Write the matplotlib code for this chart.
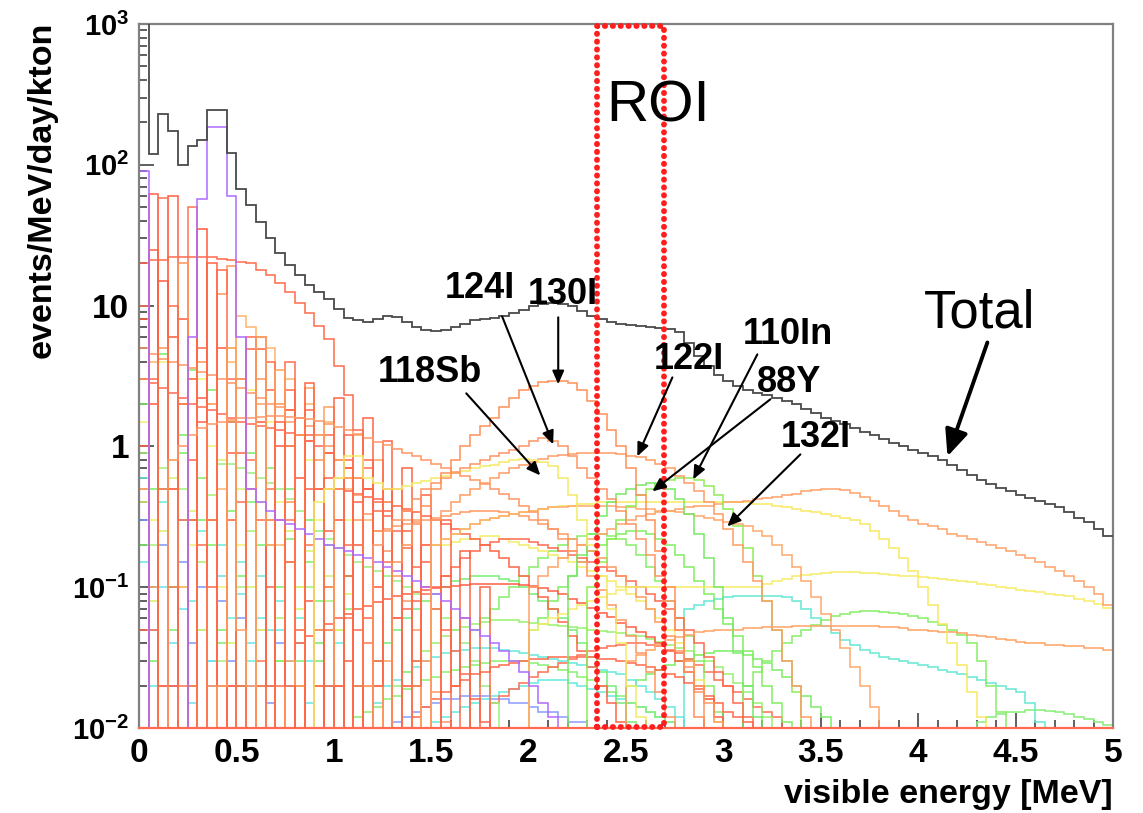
import numpy as np
import matplotlib.pyplot as plt
from matplotlib.patches import Rectangle
from matplotlib.ticker import FixedLocator, FixedFormatter, MultipleLocator, LogLocator, NullFormatter

plt.rcParams['font.family'] = ['Liberation Sans', 'DejaVu Sans']
plt.rcParams['mathtext.fontset'] = 'custom'
plt.rcParams['mathtext.rm'] = 'Liberation Sans:bold'
plt.rcParams['mathtext.it'] = 'Liberation Sans:bold'
plt.rcParams['mathtext.bf'] = 'Liberation Sans:bold'

# histogram binning: 100 bins of 0.05 MeV
edges = np.linspace(0, 5, 101)

# total spectrum, events/MeV/day/kton per bin
total = [1500, 119, 228, 175, 100, 135, 150, 243, 243, 122,
         67, 52, 39, 30, 23.5, 19.5, 16.6, 14.1, 12.4, 11.1,
         9.4, 8.2, 7.9, 7.7, 8.0, 8.4, 8.3, 7.6, 7.0, 6.7,
         6.6, 6.7, 7.0, 7.4, 7.9, 8.0, 8.2, 8.4, 8.8, 9.3,
         9.9, 10.3, 10.4, 10.2, 10.0, 9.2, 8.4, 8.0, 7.7, 7.4,
         7.3, 7.2, 7.0, 6.9, 6.8, 6.5, 5.4, 4.4, 3.7, 3.2,
         2.9, 2.7, 2.5, 2.4, 2.3, 2.2, 2.1, 2.0, 1.85, 1.72,
         1.6, 1.52, 1.43, 1.35, 1.27, 1.2, 1.12, 1.05, 1.0, 0.95,
         0.9, 0.85, 0.8, 0.74, 0.68, 0.63, 0.58, 0.54, 0.51, 0.48,
         0.45, 0.43, 0.41, 0.39, 0.37, 0.34, 0.31, 0.29, 0.26, 0.23]

# individual isotopes: (first bin index, values per bin)
i130 = (26, [0.15, 0.2, 0.28, 0.38, 0.5, 0.65, 0.8, 1.0, 1.2, 1.4, 1.6, 1.9, 2.2, 2.5, 2.7,
             2.85, 2.9, 2.9, 2.8, 2.5, 2.1, 1.7, 1.3, 1.0, 0.7, 0.45, 0.3, 0.18, 0.1, 0.05,
             0.025, 0.012])
i124 = (24, [0.2, 0.25, 0.3, 0.35, 0.42, 0.5, 0.55, 0.6, 0.65, 0.7, 0.75, 0.8, 0.85, 0.9, 0.95,
             1.0, 1.1, 1.15, 1.1, 1.0, 0.85, 0.7, 0.6, 0.5, 0.42, 0.35, 0.28, 0.22, 0.17, 0.12,
             0.08, 0.05, 0.03, 0.018, 0.01])
sb118 = (18, [0.4, 0.5, 0.6, 0.85, 0.85, 0.6, 0.55, 0.5, 0.5, 0.52, 0.55, 0.57, 0.6, 0.62, 0.65,
              0.67, 0.7, 0.72, 0.74, 0.77, 0.8, 0.82, 0.8, 0.78, 0.72, 0.6, 0.45, 0.3, 0.2, 0.12,
              0.07, 0.04, 0.02, 0.012])
i122 = (30, [0.3, 0.35, 0.4, 0.45, 0.5, 0.55, 0.6, 0.65, 0.7, 0.74, 0.78, 0.82, 0.85, 0.87, 0.88,
             0.89, 0.9, 0.9, 0.9, 0.88, 0.86, 0.84, 0.8, 0.75, 0.7, 0.62, 0.55, 0.48, 0.4, 0.33,
             0.26, 0.2, 0.15, 0.11, 0.08, 0.05, 0.03, 0.02, 0.012])
y88 = (44, [0.12, 0.17, 0.24, 0.32, 0.4, 0.46, 0.5, 0.53, 0.55, 0.54, 0.5, 0.42, 0.33, 0.24, 0.16,
            0.1, 0.06, 0.035, 0.02, 0.012])
in110 = (46, [0.1, 0.15, 0.22, 0.3, 0.38, 0.45, 0.5, 0.55, 0.58, 0.6, 0.6, 0.58, 0.52, 0.45, 0.36,
              0.27, 0.19, 0.12, 0.08, 0.05, 0.03, 0.018, 0.01])
i132 = (30, [0.2, 0.22, 0.24, 0.26, 0.28, 0.3, 0.31, 0.32, 0.33, 0.34, 0.35, 0.36, 0.37, 0.37, 0.38,
             0.38, 0.38, 0.38, 0.38, 0.37, 0.37, 0.36, 0.36, 0.35, 0.35, 0.34, 0.33, 0.32, 0.31, 0.3,
             0.29, 0.28, 0.27, 0.25, 0.23, 0.2, 0.17, 0.14, 0.11, 0.085, 0.065, 0.05, 0.037, 0.027,
             0.02, 0.014, 0.01])
peak_lowE = (0, [90, 0, 0, 0, 0, 6, 57, 184, 184, 60, 6, 0.5, 0.4, 0.35, 0.3, 0.28, 0.26, 0.24,
                 0.22, 0.2, 0.19, 0.18, 0.17, 0.16, 0.15, 0.14, 0.13, 0.12, 0.11, 0.1, 0.09, 0.08,
                 0.07, 0.06, 0.05, 0.045, 0.04, 0.035, 0.03, 0.025, 0.02, 0.015, 0.012])
broad_red = (0, [20, 21, 21, 22, 22, 22, 22, 22, 21.5, 21, 20.5, 20, 18, 16.5, 14.5, 12.5, 10.5,
                 8.8, 7.2, 5.8, 3.7, 2.3, 1.3, 0.7, 0.35, 0.15, 0.06, 0.02])
broad_orange = (3, [0.8, 1.0, 1.2, 1.35, 1.45, 1.5, 1.55, 1.58, 1.6, 1.62, 1.63, 1.63, 1.62, 1.6,
                    1.57, 1.52, 1.45, 1.38, 1.3, 1.22, 1.15, 1.08, 1.02, 0.96, 0.9, 0.85, 0.8,
                    0.75, 0.7, 0.66, 0.62, 0.58, 0.54, 0.5, 0.46, 0.42, 0.38, 0.34, 0.3, 0.26,
                    0.22, 0.18, 0.15, 0.12, 0.095, 0.075, 0.058, 0.045, 0.034, 0.025, 0.018, 0.012])
hiE_orange = (40, [0.1, 0.12, 0.14, 0.16, 0.18, 0.2, 0.22, 0.24, 0.26, 0.28, 0.3, 0.32, 0.33, 0.34,
                   0.35, 0.36, 0.37, 0.38, 0.38, 0.39, 0.4, 0.4, 0.41, 0.42, 0.43, 0.44, 0.45,
                   0.46, 0.48, 0.49, 0.5, 0.5, 0.49, 0.47, 0.44, 0.41, 0.38, 0.35, 0.32, 0.3,
                   0.28, 0.27, 0.26, 0.24, 0.23, 0.22, 0.21, 0.2, 0.19, 0.18, 0.17, 0.16, 0.15,
                   0.14, 0.13, 0.12, 0.11, 0.1, 0.09, 0.075])
hiE_yellow = (30, [0.2, 0.22, 0.24, 0.26, 0.28, 0.3, 0.31, 0.32, 0.33, 0.34, 0.35, 0.36, 0.37,
                   0.38, 0.38, 0.39, 0.39, 0.4, 0.4, 0.4, 0.4, 0.4, 0.4, 0.4, 0.4, 0.4, 0.4, 0.4,
                   0.4, 0.4, 0.4, 0.4, 0.4, 0.39, 0.39, 0.38, 0.37, 0.36, 0.35, 0.34, 0.33, 0.32,
                   0.31, 0.3, 0.28, 0.25, 0.22, 0.19, 0.16, 0.13, 0.1, 0.075, 0.055, 0.04, 0.028,
                   0.018, 0.012])
flat_yellow = (40, [0.05, 0.055, 0.06, 0.065, 0.07, 0.075, 0.08, 0.085, 0.09, 0.095, 0.1, 0.1, 0.1,
                    0.1, 0.1, 0.1, 0.1, 0.1, 0.1, 0.1, 0.1, 0.1, 0.1, 0.1, 0.105, 0.11, 0.115,
                    0.12, 0.122, 0.125, 0.127, 0.128, 0.128, 0.128, 0.127, 0.126, 0.125, 0.123,
                    0.121, 0.12, 0.118, 0.116, 0.114, 0.112, 0.11, 0.108, 0.105, 0.103, 0.1,
                    0.098, 0.096, 0.094, 0.092, 0.09, 0.088, 0.086, 0.083, 0.08, 0.076, 0.071])
flat_orange = (50, [0.03, 0.033, 0.036, 0.039, 0.042, 0.044, 0.046, 0.048, 0.049, 0.05, 0.05, 0.05,
                    0.051, 0.051, 0.052, 0.052, 0.052, 0.053, 0.053, 0.053, 0.053, 0.053, 0.053,
                    0.053, 0.053, 0.053, 0.052, 0.052, 0.051, 0.05, 0.05, 0.049, 0.048, 0.048,
                    0.047, 0.046, 0.045, 0.044, 0.043, 0.042, 0.041, 0.04, 0.04, 0.039, 0.039,
                    0.038, 0.038, 0.037, 0.037, 0.036])
hiE_green = (62, [0.02, 0.025, 0.03, 0.035, 0.04, 0.045, 0.05, 0.054, 0.058, 0.062, 0.065, 0.067,
                  0.068, 0.068, 0.067, 0.066, 0.064, 0.062, 0.06, 0.057, 0.054, 0.05, 0.046, 0.04,
                  0.03, 0.02, 0.013, 0.01])
hiE_cyan = (56, [0.07, 0.075, 0.08, 0.083, 0.085, 0.086, 0.087, 0.087, 0.087, 0.086, 0.085, 0.08,
                 0.07, 0.06, 0.053, 0.047, 0.042, 0.039, 0.036, 0.034, 0.032, 0.031, 0.03, 0.029,
                 0.028, 0.027, 0.026, 0.025, 0.024, 0.023, 0.022, 0.021, 0.02, 0.019, 0.018,
                 0.015, 0.011])
tail_green = (86, [0.011, 0.012, 0.0125, 0.013, 0.013, 0.0135, 0.0135, 0.0133, 0.013, 0.0125,
                   0.012, 0.0115, 0.011, 0.0105])
red_hump = (16, [0.04, 0.045, 0.05, 0.055, 0.06, 0.065, 0.07, 0.074, 0.078, 0.082, 0.086, 0.089,
                 0.092, 0.095, 0.098, 0.1, 0.102, 0.104, 0.105, 0.106, 0.106, 0.106, 0.105, 0.104,
                 0.102, 0.098, 0.094, 0.089, 0.083, 0.077, 0.071, 0.066, 0.061, 0.056, 0.052,
                 0.048, 0.044, 0.04, 0.035, 0.03, 0.025, 0.02, 0.016, 0.012])
red_low_hump = (28, [0.012, 0.014, 0.016, 0.018, 0.02, 0.022, 0.024, 0.025, 0.027, 0.028, 0.029,
                     0.03, 0.031, 0.031, 0.032, 0.032, 0.032, 0.032, 0.032, 0.031, 0.031, 0.03,
                     0.029, 0.028, 0.027, 0.026, 0.024, 0.023, 0.021, 0.019, 0.017, 0.015, 0.013,
                     0.012, 0.011])
green_mid = (34, [0.05, 0.06, 0.07, 0.085, 0.1, 0.12, 0.14, 0.16, 0.18, 0.2, 0.22, 0.23, 0.24, 0.24,
                  0.23, 0.22, 0.2, 0.17, 0.14, 0.11, 0.08, 0.06, 0.045, 0.03, 0.02, 0.013])
green_wide = (24, [0.03, 0.04, 0.05, 0.06, 0.07, 0.08, 0.09, 0.1, 0.11, 0.115, 0.12, 0.12, 0.12,
                   0.115, 0.11, 0.1, 0.09, 0.08, 0.07, 0.06, 0.05, 0.04, 0.032, 0.025, 0.02, 0.015,
                   0.011])
green_flat = (26, [0.02, 0.025, 0.03, 0.035, 0.04, 0.045, 0.05, 0.052, 0.055, 0.057, 0.058, 0.058,
                   0.058, 0.057, 0.056, 0.055, 0.054, 0.053, 0.052, 0.051, 0.05, 0.049, 0.048,
                   0.047, 0.046, 0.045, 0.043, 0.041, 0.039, 0.037, 0.035, 0.033, 0.03, 0.027,
                   0.024, 0.021, 0.018, 0.015, 0.012, 0.01])
green_low = (8, [0.75, 0.75, 0.7, 0.65, 0.6, 0.55, 0.5, 0.42, 0.35, 0.3, 0.25, 0.22, 0.19, 0.17,
                 0.15, 0.14, 0.13, 0.12, 0.11, 0.1, 0.09, 0.08, 0.07, 0.06, 0.05, 0.04, 0.03, 0.02,
                 0.015, 0.01])
desc_orange = (0, [5, 4.5, 4.2, 4, 3.8, 3.6, 3.4, 3.2, 3, 2.8, 2.6, 2.4, 2.2, 2.0, 1.9, 1.8, 1.6,
                   1.4, 1.2, 1.0, 0.8, 0.6, 0.45, 0.33, 0.25, 0.18, 0.12, 0.08, 0.05, 0.03, 0.018,
                   0.011])
desc_red = (0, [3, 2.8, 2.6, 2.4, 2.2, 2.0, 1.9, 1.8, 1.7, 1.6, 1.5, 1.45, 1.4, 1.35, 1.3, 1.25,
                1.2, 1.1, 1.0, 0.9, 0.8, 0.7, 0.6, 0.5, 0.4, 0.32, 0.25, 0.19, 0.14, 0.1, 0.07,
                0.05, 0.035, 0.024, 0.016, 0.011])
mid_red1 = (20, [0.5, 0.48, 0.46, 0.44, 0.42, 0.4, 0.38, 0.36, 0.34, 0.32, 0.3, 0.28, 0.26, 0.24,
                 0.22, 0.2, 0.18, 0.16, 0.14, 0.12, 0.1, 0.085, 0.07, 0.057, 0.045, 0.035, 0.027,
                 0.02, 0.015, 0.011])
mid_orange2 = (24, [0.25, 0.26, 0.27, 0.28, 0.29, 0.3, 0.31, 0.32, 0.33, 0.34, 0.35, 0.35, 0.35,
                    0.34, 0.33, 0.32, 0.3, 0.28, 0.26, 0.24, 0.22, 0.2, 0.18, 0.16, 0.14, 0.12,
                    0.1, 0.085, 0.07, 0.057, 0.045, 0.035, 0.027, 0.02, 0.015, 0.011])
mid_red3 = (26, [0.06, 0.07, 0.08, 0.09, 0.1, 0.12, 0.14, 0.16, 0.18, 0.2, 0.21, 0.22, 0.22, 0.22,
                 0.21, 0.2, 0.19, 0.18, 0.17, 0.16, 0.15, 0.14, 0.13, 0.12, 0.11, 0.1, 0.09, 0.08,
                 0.07, 0.06, 0.05, 0.04, 0.032, 0.025, 0.02, 0.015, 0.012])
mid_green4 = (40, [0.05, 0.06, 0.08, 0.1, 0.12, 0.15, 0.18, 0.2, 0.22, 0.24, 0.25, 0.25, 0.24, 0.22,
                   0.2, 0.17, 0.14, 0.11, 0.09, 0.07, 0.055, 0.045, 0.035, 0.027, 0.02, 0.015,
                   0.011])
mid_cyan = (24, [0.015, 0.02, 0.022, 0.025, 0.027, 0.03, 0.032, 0.034, 0.035, 0.036, 0.037, 0.037,
                 0.037, 0.036, 0.035, 0.034, 0.033, 0.032, 0.031, 0.03, 0.029, 0.028, 0.027,
                 0.026, 0.025, 0.024, 0.022, 0.02, 0.018, 0.016, 0.014, 0.012, 0.01])
mid_yellow = (30, [0.2, 0.2, 0.21, 0.22, 0.22, 0.23, 0.23, 0.22, 0.21, 0.2, 0.19, 0.18, 0.17, 0.16,
                   0.15, 0.14, 0.13, 0.12, 0.11, 0.1, 0.09, 0.08, 0.07, 0.06, 0.05, 0.04, 0.03,
                   0.022, 0.016, 0.011])
low_green_a = (22, [0.012, 0.013, 0.014, 0.016, 0.017, 0.019, 0.02, 0.022, 0.023, 0.025, 0.026,
                    0.027, 0.028, 0.029, 0.03, 0.03, 0.03, 0.03, 0.029, 0.028, 0.027, 0.026,
                    0.025, 0.023, 0.022, 0.02, 0.018, 0.017, 0.015, 0.014, 0.013, 0.012, 0.011,
                    0.01])
low_cyan_b = (30, [0.011, 0.012, 0.013, 0.014, 0.015, 0.016, 0.017, 0.018, 0.019, 0.02, 0.021,
                   0.022, 0.022, 0.022, 0.021, 0.02, 0.019, 0.018, 0.017, 0.016, 0.015, 0.014,
                   0.013, 0.012, 0.011, 0.01])
low_blue_c = (26, [0.011, 0.012, 0.013, 0.014, 0.015, 0.016, 0.016, 0.017, 0.017, 0.017, 0.016,
                   0.016, 0.015, 0.015, 0.014, 0.013, 0.013, 0.012, 0.011, 0.011, 0.01])
low_red_d = (36, [0.015, 0.017, 0.019, 0.021, 0.023, 0.025, 0.027, 0.029, 0.031, 0.033, 0.035,
                  0.037, 0.038, 0.039, 0.04, 0.04, 0.039, 0.038, 0.036, 0.034, 0.031, 0.028,
                  0.025, 0.022, 0.02, 0.018, 0.016, 0.014, 0.013, 0.012])
low_green_e = (50, [0.02, 0.022, 0.024, 0.026, 0.028, 0.03, 0.031, 0.033, 0.034, 0.035, 0.035,
                    0.034, 0.033, 0.031, 0.029, 0.026, 0.023, 0.02, 0.017, 0.014, 0.012, 0.01])

# low-energy spikes (the dense "forest" below 1.3 MeV)
spike_1 = (0, [0, 62, 0.02, 60, 0.01, 0.8, 2.2, 0.3, 0.01, 0.9, 0.02, 0.5, 0.01, 0.3, 0.01, 0.15,
               0.01, 0.08, 0.01, 0.05, 0.01, 0.03])
spike_2 = (0, [0.5, 0.05, 58, 0.1, 0.02, 50, 0.01, 2, 0.02, 1.5, 0.01, 0.8, 0.03, 0.5, 0.01, 0.3,
               0.02, 0.2, 0.01, 0.1, 0.01, 0.06, 0.01, 0.04])
spike_3 = (0, [8, 2, 15, 0.02, 8, 0.3, 35, 0.01, 5, 0.02, 3, 0.01, 1.5, 0.02, 1.0, 0.01, 0.6, 0.01,
               0.5, 0.02, 0.3, 0.01, 0.2, 0.01, 0.1])
spike_4 = (0, [3, 0.1, 5, 0.5, 20, 0.01, 4, 0.02, 12, 19, 0.01, 0.5, 3, 0.01, 2, 0.4, 1.2, 0.01,
               0.8, 0.1, 0.5, 0.01, 0.3])
spike_5 = (0, [0.5, 4, 0.01, 6, 0.1, 3, 0.01, 2, 0.5, 4, 8.4, 7, 0.01, 5, 0.2, 3, 0.01, 2, 0.02,
               1.5, 0.6, 0.5, 0.01, 0.3])
spike_6 = (0, [2, 0.5, 4.5, 0.1, 1.2, 3.5, 0.3, 2.5, 0.05, 1.5, 0.02, 0.9, 0.2, 0.7, 0.03, 0.5, 0.1,
               0.3, 0.04, 0.2, 0.05, 0.12, 0.02])
spike_7 = (0, [1.5, 0.3, 4, 0.8, 2, 0.2, 3, 1, 0.1, 5, 0.2, 2.5, 0.05, 1.5, 0.4, 1, 0.1, 0.8, 0.3,
               0.5, 0.05, 0.3])
spike_8 = (0, [0.6, 0.1, 0.4, 0.05, 0.3, 0.08, 0.25, 0.03, 0.2, 0.06, 0.15, 0.03, 0.12, 0.05, 0.08,
               0.02, 0.06, 0.03, 0.05, 0.02, 0.04])
spike_9 = (0, [0.3, 0.05, 0.2, 0.02, 0.15, 0.04, 0.1, 0.02, 0.08, 0.03, 0.06, 0.02, 0.05, 0.015,
               0.04])
spike_10 = (0, [0.9, 0.2, 0.7, 0.05, 0.5, 0.3, 0.15, 0.45, 0.03, 0.3, 0.1, 0.25, 0.02, 0.2, 0.06,
                0.15, 0.02, 0.1, 0.03, 0.08])
spike_11 = (0, [1, 25, 0.01, 0.5, 2, 0.01, 1.5, 20, 0.01, 0.3, 0.9, 4.9, 4.9, 0.1, 0.01, 1, 0.02,
                0.5, 0.01, 0.25, 0.02, 0.12, 0.01, 0.06])
spike_12 = (0, [10, 0.01, 0.5, 6, 0.01, 3, 0.2, 0.01, 18, 0.02, 0.4, 0.01, 6, 0.01, 0.3, 4, 0.01,
                1.1, 0.01, 0.5, 0.01, 0.2, 0.02])
spike_13 = (12, [0.02, 2.5, 0.01, 1.8, 0.05, 1.2, 0.01, 0.9, 0.02, 0.7, 0.01, 0.5, 0.03, 0.35, 0.01,
                 0.25, 0.01, 0.15])
spike_14 = (10, [3, 0.01, 2, 0.3, 0.01, 1.5, 0.02, 0.01, 1.2, 0.05, 0.8, 0.01, 0.6, 0.02, 0.01, 0.4,
                 0.01, 0.3, 0.01, 0.2])
spike_15 = (0, [0.05, 3, 0.02, 10, 0.3, 0.02, 5, 0.1, 0.02, 3, 0.01, 6, 0.3, 4, 0.02, 2.5, 0.01, 1.8,
                0.5, 1.2, 0.01, 0.8, 0.05, 0.5, 0.01])
spike_16 = (0, [0.2, 0.03, 0.5, 0.1, 0.9, 0.02, 0.6, 0.2, 0.04, 0.35, 0.12, 0.4, 0.05, 0.3, 0.1, 0.22,
                0.03, 0.15, 0.08, 0.1, 0.02, 0.07])
spike_17 = (0, [0.15, 0.02, 0.1, 0.04, 0.07, 0.015, 0.05, 0.03, 0.12, 0.02, 0.09, 0.04, 0.06, 0.02,
                0.05, 0.03, 0.04, 0.015, 0.03])
spike_18 = (8, [0.02, 5, 0.05, 0.02, 6, 0.2, 3.5, 0.03, 0.02, 2.6, 0.05, 1.9, 0.02, 0.6, 1.2, 0.02,
                0.8, 0.03, 0.5, 0.02, 0.3])
spike_19 = (14, [1.5, 0.02, 0.01, 2.8, 0.02, 0.6, 2.2, 0.01, 0.4, 1.6, 0.02, 1.1, 0.01, 0.7, 0.03,
                 0.45, 0.01, 0.3, 0.02, 0.18, 0.01, 0.1])
spike_20 = (0, [0.4, 0.08, 0.25, 0.6, 0.1, 0.35, 0.05, 0.3, 0.8, 0.04, 0.5, 0.1, 0.4, 0.2, 0.03,
                0.25, 0.07, 0.18, 0.02, 0.12, 0.05, 0.09, 0.02])
spike_21 = (20, [0.02, 1.2, 0.01, 0.8, 0.02, 0.5, 0.01, 0.35, 0.02, 0.2, 0.01, 0.12, 0.01, 0.06])

series = [
    (spike_8, '#66ecdc'), (spike_9, '#7a98ff'), (spike_17, '#66e4ee'), (spike_10, '#a4f276'),
    (spike_16, '#7cf066'), (spike_20, '#d4f466'), (spike_6, '#77ee66'), (spike_7, '#f4ee70'),
    (low_blue_c, '#8a9cff'), (low_cyan_b, '#66e8e0'), (low_green_a, '#88f070'),
    (low_green_e, '#7cee66'), (low_red_d, '#ff7054'),
    (tail_green, '#88ee77'), (hiE_cyan, '#66e8d4'), (hiE_green, '#88ee66'), (mid_cyan, '#66e8dc'),
    (green_flat, '#99f070'), (green_wide, '#77ee77'), (green_mid, '#88ee66'), (green_low, '#99f080'),
    (mid_green4, '#80ee60'), (mid_yellow, '#f4ec68'),
    (red_low_hump, '#ff6a4c'), (red_hump, '#ff5e44'), (mid_red3, '#ff6a50'), (mid_red1, '#ff6448'),
    (mid_orange2, '#ff9a60'),
    (flat_orange, '#ffa466'), (flat_yellow, '#f6ec68'), (hiE_yellow, '#f6ea60'),
    (hiE_orange, '#ffa268'), (desc_red, '#ff6a50'), (desc_orange, '#ff9660'),
    (spike_1, '#ff5e42'), (spike_2, '#ff7454'), (spike_3, '#ff5a3c'), (spike_4, '#ff9458'),
    (spike_5, '#ffb46a'), (spike_11, '#ff6244'), (spike_12, '#ff6c50'),
    (spike_13, '#ff6446'), (spike_14, '#ff9e60'), (spike_15, '#ff6a4a'), (spike_18, '#ffa060'),
    (spike_19, '#ff6446'), (spike_21, '#ff6a4c'),
    (broad_orange, '#ff9664'), (broad_red, '#ff6a4c'), (peak_lowE, '#ad6aff'),
    (i132, '#ffa86c'), (in110, '#90ee55'), (y88, '#77e866'), (i122, '#ff9c66'),
    (sb118, '#f4ea66'), (i124, '#ff9464'), (i130, '#ff9058'),
]

fig = plt.figure(figsize=(11.43, 8.13), dpi=100)
ax = fig.add_axes([0.1216, 0.1046, 0.8522, 0.8659])

nbins = len(edges) - 1
for (start, vals), col in series:
    full = np.zeros(nbins)
    full[start:start + len(vals)] = vals
    ax.stairs(np.clip(full, 0.01, None), edges, baseline=None, color=col, lw=1.1, zorder=2)

ax.stairs(np.array(total), edges, baseline=None, color='#4a4a4a', lw=1.3, zorder=4)

ax.set_yscale('log')
ax.set_xlim(0, 5)
ax.set_ylim(0.01, 1000)

# ROI box
ax.add_patch(Rectangle((2.352, 0.0101), 2.696 - 2.352, 960 - 0.0101, fill=False,
                       ec='#ff1e1e', lw=4.2, ls=(0, (0.05, 1.3)), capstyle='round',
                       joinstyle='round', zorder=5, clip_on=False))

# axes styling, ROOT-like
for side in ['top', 'right', 'left']:
    ax.spines[side].set_color('#808080')
    ax.spines[side].set_linewidth(1.6)
ax.spines['bottom'].set_color('#ff6a50')
ax.spines['bottom'].set_linewidth(1.6)

ax.xaxis.set_major_locator(FixedLocator([0, 0.5, 1, 1.5, 2, 2.5, 3, 3.5, 4, 4.5, 5]))
ax.xaxis.set_major_formatter(FixedFormatter(['0', '0.5', '1', '1.5', '2', '2.5', '3', '3.5', '4', '4.5', '5']))
ax.xaxis.set_minor_locator(MultipleLocator(0.1))

ax.yaxis.set_major_locator(FixedLocator([1e-2, 1e-1, 1, 10, 1e2, 1e3]))
ax.yaxis.set_major_formatter(FixedFormatter(['$10^{-2}$', '$10^{-1}$', '1', '10', '$10^{2}$', '$10^{3}$']))
ax.yaxis.set_minor_locator(LogLocator(base=10, subs=np.arange(2, 10)))
ax.yaxis.set_minor_formatter(NullFormatter())

ax.tick_params(which='both', direction='in', top=False, right=False, color='#444444', width=1.2)
ax.tick_params(which='major', length=11, pad=7, labelsize=24)
ax.tick_params(which='minor', length=5.5)
for lab in ax.get_xticklabels() + ax.get_yticklabels():
    lab.set_fontweight('bold')
for lab in ax.get_yticklabels():
    if '$' in lab.get_text():
        lab.set_fontsize(21)

ax.set_xlabel('visible energy [MeV]', fontsize=24.5, fontweight='bold', ha='right', va='center')
ax.xaxis.set_label_coords(1.0, -0.095)
ax.set_ylabel('events/MeV/day/kton', fontsize=24.5, fontweight='bold', ha='center', va='center')
ax.yaxis.set_label_coords(-0.0996, 0.764)

# annotations
ax.text(2.40, 203, 'ROI', fontsize=42, va='baseline', ha='left', zorder=6)
ax.text(4.03, 7.0, 'Total', fontsize=38, va='baseline', ha='left', zorder=6)

labels = [
    ('124I', 1.572, 11.4), ('130I', 1.993, 10.2), ('118Sb', 1.228, 2.85),
    ('122I', 2.64, 3.52), ('110In', 3.097, 5.3), ('88Y', 3.174, 2.42), ('132I', 3.292, 0.984),
]
for txt, x, y in labels:
    ax.text(x, y, txt, fontsize=26, fontweight='bold', va='baseline', ha='left', zorder=6)

arrows = [
    ((1.680, 2.38), (2.060, 0.622)),
    ((1.864, 8.38), (2.126, 1.033)),
    ((2.152, 8.25), (2.152, 2.76)),
    ((2.738, 3.09), (2.558, 0.849)),
    ((3.174, 4.5), (2.845, 0.583)),
    ((3.241, 2.16), (2.635, 0.479)),
    ((3.395, 0.877), (3.020, 0.27)),
]
for tail, head in arrows:
    ax.annotate('', xy=head, xytext=tail, zorder=6,
                arrowprops=dict(arrowstyle='-|>,head_length=0.8,head_width=0.35', lw=1.5,
                                color='black', shrinkA=0, shrinkB=0, mutation_scale=10))
ax.annotate('', xy=(4.150, 0.849), xytext=(4.355, 5.47), zorder=6,
            arrowprops=dict(arrowstyle='-|>,head_length=1.6,head_width=0.7', lw=2.8,
                            color='black', shrinkA=0, shrinkB=0, mutation_scale=10))

fig.savefig('out.png', dpi=100)
